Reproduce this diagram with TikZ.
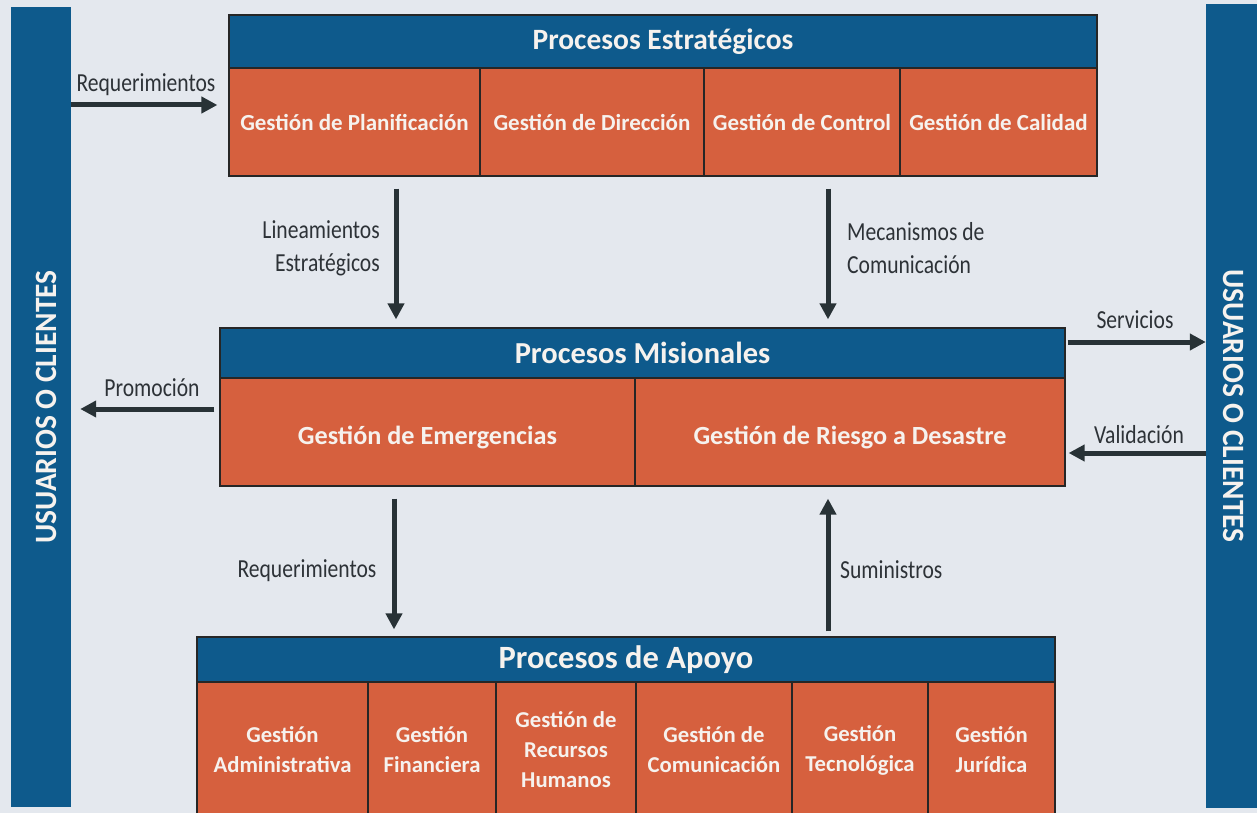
\documentclass[tikz,border=0pt]{standalone}
\usepackage{fontspec}
\setmainfont{Carlito}
\newfontfamily\labfont{Carlito}[FakeStretch=0.83]
\newfontfamily\vfont{Carlito}[FakeStretch=0.95]
\usetikzlibrary{arrows.meta}
\definecolor{bg}{RGB}{228,232,238}
\definecolor{hdr}{RGB}{14,90,140}
\definecolor{org}{RGB}{214,96,62}
\definecolor{arrc}{RGB}{40,50,54}
\definecolor{lbl}{RGB}{45,50,55}
\definecolor{txtw}{RGB}{246,242,238}
\begin{document}
\begin{tikzpicture}[x=1pt,y=-1pt,
  hdrbox/.style={draw=black!85, line width=1.2pt, fill=hdr, text=txtw, inner sep=0pt},
  cellbox/.style={draw=black!85, line width=1.2pt, fill=org, text=txtw, inner sep=0pt, align=center},
  bar/.style={fill=hdr, text=txtw, inner sep=0pt, font=\vfont\bfseries\fontsize{31}{32}\selectfont},
  flow/.style={draw=arrc, line width=5pt, -{Triangle[length=16pt,width=16pt]}},
  lab/.style={text=lbl, inner sep=0pt, font=\labfont\fontsize{26}{33}\selectfont}
]
\useasboundingbox (0,0) rectangle (1257,813);
\clip (0,0) rectangle (1257,813);
\fill[bg] (0,0) rectangle (1257,813);

% side bars
\node[bar, rotate=90, minimum width=800pt, minimum height=60pt] (lbar) at (41,407) {\rule{0pt}{32pt}USUARIOS O CLIENTES};
\node[bar, rotate=-90, minimum width=804pt, minimum height=56pt] (rbar) at (1234,406) {USUARIOS O CLIENTES};

% Procesos Estrategicos
\node[hdrbox, minimum width=868pt, minimum height=53pt, font=\bfseries\fontsize{29.5}{32}\selectfont] (pe) at (663,41.5) {Procesos Estratégicos};
\begin{scope}[every node/.append style={cellbox, minimum height=108pt, font=\bfseries\fontsize{23}{28}\selectfont}]
\node[minimum width=251pt] (pe1) at (354.5,122) {Gestión de Planificación};
\node[minimum width=224pt] (pe2) at (592,122) {Gestión de Dirección};
\node[minimum width=196pt] (pe3) at (802,122) {Gestión de Control};
\node[minimum width=197pt] (pe4) at (998.5,122) {Gestión de Calidad};
\end{scope}

% Procesos Misionales
\node[hdrbox, minimum width=845pt, minimum height=50pt, font=\bfseries\fontsize{30.5}{32}\selectfont] (pm) at (642.5,353) {Procesos Misionales};
\begin{scope}[every node/.append style={cellbox, minimum height=108pt, font=\bfseries\fontsize{26.2}{32}\selectfont}]
\node[minimum width=415pt] (pm1) at (427.5,432) {\rule{0pt}{29pt}Gestión de Emergencias};
\node[minimum width=430pt] (pm2) at (850,432) {\rule{0pt}{29pt}Gestión de Riesgo a Desastre};
\end{scope}

% Procesos de Apoyo
\node[hdrbox, minimum width=858pt, minimum height=45pt, font=\bfseries\fontsize{32.5}{34}\selectfont] (pa) at (626,659.5) {Procesos de Apoyo};
\begin{scope}[every node/.append style={cellbox, minimum height=136pt, font=\bfseries\fontsize{22.7}{30}\selectfont}]
\node[minimum width=171pt] (pa1) at (282.5,750) {Gestión\\Administrativa};
\node[minimum width=128pt] (pa2) at (432,750) {Gestión\\Financiera};
\node[minimum width=140pt] (pa3) at (566,750) {Gestión de\\Recursos\\Humanos};
\node[minimum width=156pt] (pa4) at (714,750) {Gestión de\\Comunicación};
\node[minimum width=136pt] (pa5) at (860,750) {Gestión\\Tecnológica};
\node[minimum width=127pt] (pa6) at (991.5,750) {Gestión\\Jurídica};
\end{scope}

% connectors
\draw[flow] (lbar.south |- 0,105) -- ([xshift=-11pt]pe1.west |- 0,105);
\draw[flow] ([yshift=-12pt]pe1.south -| 396,0) -- ([yshift=8pt]pm.north -| 396,0);
\draw[flow] ([yshift=-12pt]pe3.south -| 828,0) -- ([yshift=8pt]pm.north -| 828,0);
\draw[flow] ([xshift=-5pt]pm1.west |- 0,409) -- ([xshift=9pt]lbar.south |- 0,409);
\draw[flow] ([xshift=2pt]pm.east |- 0,342) -- (rbar.south |- 0,342);
\draw[flow] (rbar.south |- 0,453) -- ([xshift=3pt]pm2.east |- 0,453);
\draw[flow] ([yshift=-12pt]pm1.south -| 394,0) -- ([yshift=7pt]pa.north -| 394,0);
\draw[flow] ([yshift=5pt]pa.north -| 828,0) -- ([yshift=-12pt]pm2.south -| 828,0);

% labels
\node[lab] (l1) at (146,85) {Requerimientos};
\node[lab, align=right, anchor=east] (l2) at (380,248) {Lineamientos\\Estratégicos};
\node[lab, align=left, anchor=west] (l3) at (847,248) {Mecanismos de\\Comunicación};
\node[lab] (l4) at (152,388) {Promoción};
\node[lab] (l5) at (1135,320) {Servicios};
\node[lab] (l6) at (1139,435) {Validación};
\node[lab] (l7) at (307,571) {Requerimientos};
\node[lab, anchor=west] (l8) at (840,570) {Suministros};
\end{tikzpicture}
\end{document}
